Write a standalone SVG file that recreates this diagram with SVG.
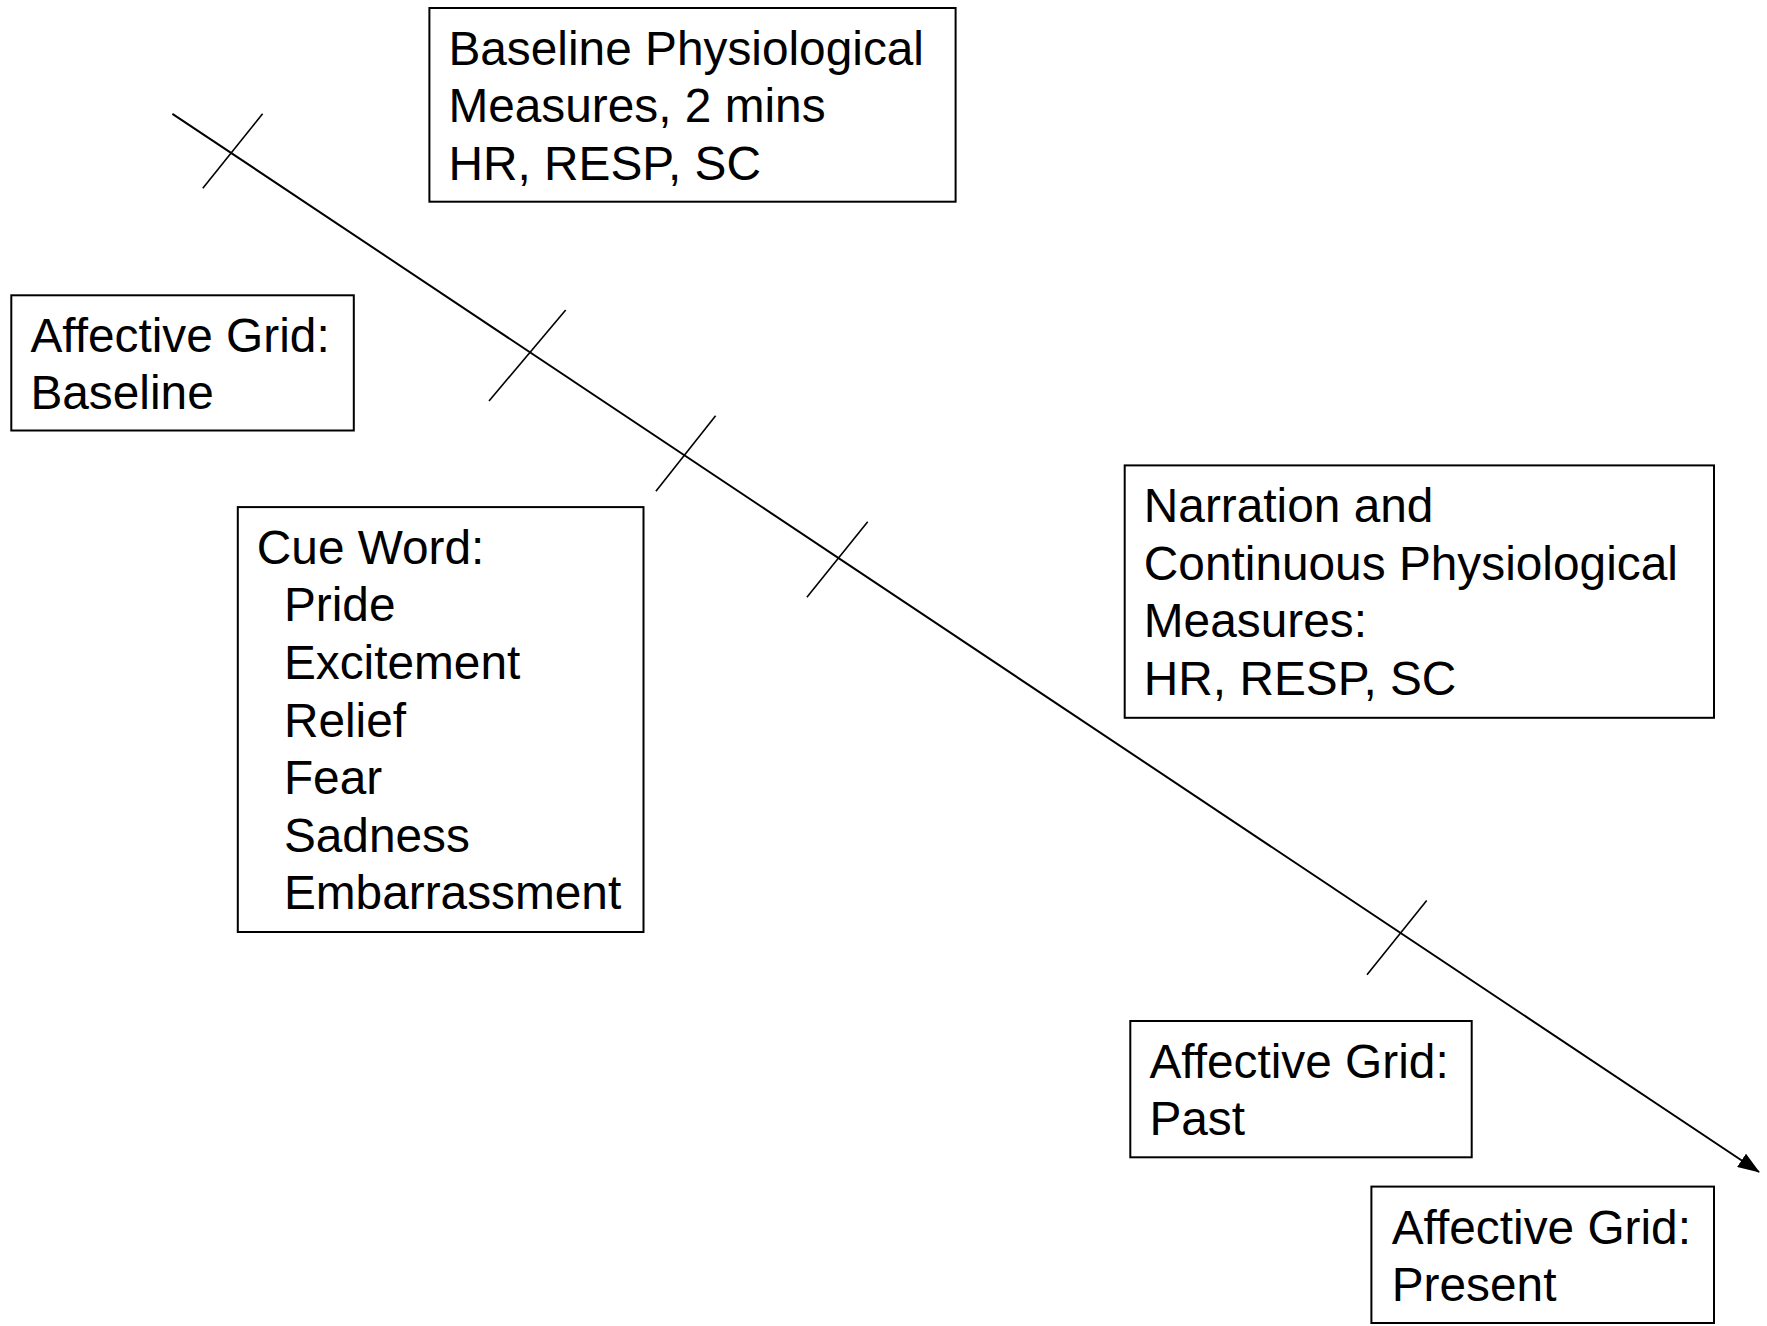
<svg xmlns="http://www.w3.org/2000/svg" width="1767" height="1326" viewBox="0 0 1767 1326">
  <style>
    .box { fill: #ffffff; stroke: #000000; stroke-width: 2; }
    .lbl { font-family: "Liberation Sans", Arial, sans-serif; font-size: 47.8px; fill: #000000; }
    .axis { stroke: #000000; stroke-width: 2; fill: none; }
    .tick { stroke: #000000; stroke-width: 1.6; fill: none; }
  </style>
  <defs>
    <marker id="arrow" viewBox="0 0 22 16" refX="21" refY="8" markerWidth="22" markerHeight="16" markerUnits="userSpaceOnUse" orient="auto">
      <path d="M0,0 L22,8 L0,16 z" fill="#000000"/>
    </marker>
  </defs>
  <rect width="1767" height="1326" fill="#ffffff"/>

  <g id="connectors">
    <line class="axis" x1="172.4" y1="113.8" x2="1759" y2="1172" marker-end="url(#arrow)"/>
    <line class="tick" x1="202.8" y1="188.2" x2="262.6" y2="113.8"/>
    <line class="tick" x1="489" y1="401" x2="565.7" y2="309.9"/>
    <line class="tick" x1="655.9" y1="491.3" x2="715.6" y2="415.8"/>
    <line class="tick" x1="806.9" y1="597.3" x2="867.7" y2="521.8"/>
    <line class="tick" x1="1367" y1="974.8" x2="1426.7" y2="900.4"/>
  </g>

  <g id="baseline-physio">
    <rect class="box" x="429.4" y="8" width="526.2" height="193.7"/>
    <text class="lbl" x="448.4" y="64.6">Baseline Physiological</text>
    <text class="lbl" x="448.4" y="122">Measures, 2 mins</text>
    <text class="lbl" x="448.4" y="179.5">HR, RESP, SC</text>
  </g>

  <g id="grid-baseline">
    <rect class="box" x="11.3" y="295.3" width="342.5" height="135.2"/>
    <text class="lbl" x="30.4" y="351.9">Affective Grid:</text>
    <text class="lbl" x="30.4" y="409.4">Baseline</text>
  </g>

  <g id="cue-word">
    <rect class="box" x="237.8" y="507.1" width="405.7" height="424.9"/>
    <text class="lbl" x="256.8" y="563.8">Cue Word:</text>
    <text class="lbl" x="283.9" y="621.4">Pride</text>
    <text class="lbl" x="283.9" y="679">Excitement</text>
    <text class="lbl" x="283.9" y="736.6">Relief</text>
    <text class="lbl" x="283.9" y="794.2">Fear</text>
    <text class="lbl" x="283.9" y="851.8">Sadness</text>
    <text class="lbl" x="283.9" y="909.4">Embarrassment</text>
  </g>

  <g id="narration">
    <rect class="box" x="1124.7" y="465.4" width="589.3" height="252.4"/>
    <text class="lbl" x="1143.8" y="522.1">Narration and</text>
    <text class="lbl" x="1143.8" y="579.6">Continuous Physiological</text>
    <text class="lbl" x="1143.8" y="637">Measures:</text>
    <text class="lbl" x="1143.8" y="694.5">HR, RESP, SC</text>
  </g>

  <g id="grid-past">
    <rect class="box" x="1130.3" y="1021" width="341.4" height="136.3"/>
    <text class="lbl" x="1149.4" y="1077.7">Affective Grid:</text>
    <text class="lbl" x="1149.4" y="1135.1">Past</text>
  </g>

  <g id="grid-present">
    <rect class="box" x="1371.4" y="1186.6" width="342.6" height="136.4"/>
    <text class="lbl" x="1391.7" y="1244.4">Affective Grid:</text>
    <text class="lbl" x="1391.7" y="1300.8">Present</text>
  </g>
</svg>
